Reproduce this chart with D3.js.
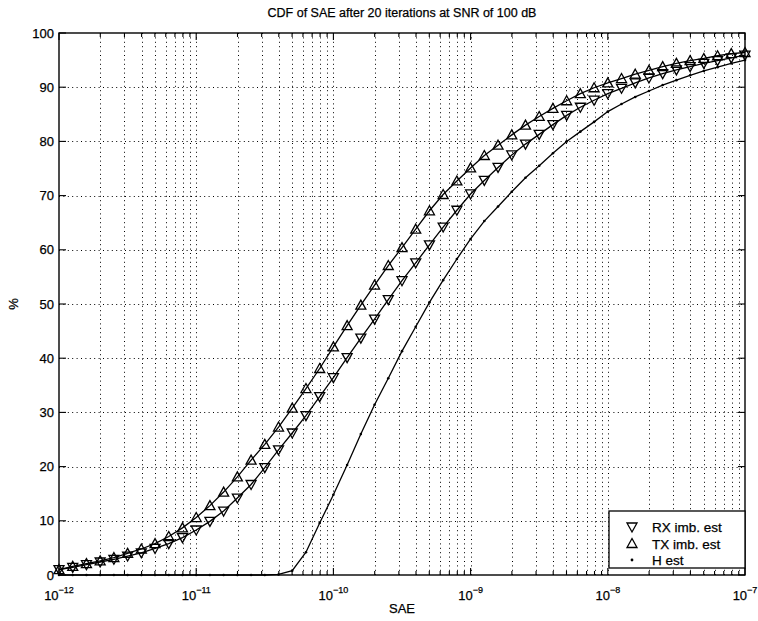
<!DOCTYPE html>
<html>
<head>
<meta charset="utf-8">
<script src="https://cdn.jsdelivr.net/npm/d3@7"></script>
<style>
  body { margin: 0; background: #fff; }
  text { font-family: "Liberation Sans", Arial, Helvetica, sans-serif; fill: #000; stroke: #000; stroke-width: 0.25; }
</style>
</head>
<body>
<svg id="chart" width="758" height="621"></svg>
<script>
// sample points, log10(SAE)
const saeExp = [
  -12.0, -11.9, -11.8, -11.7, -11.6, -11.5, -11.4, -11.3, -11.2, -11.1,
  -11.0, -10.9, -10.8, -10.7, -10.6, -10.5, -10.4, -10.3, -10.2, -10.1,
  -10.0, -9.9, -9.8, -9.7, -9.6, -9.5, -9.4, -9.3, -9.2, -9.1,
  -9.0, -8.9, -8.8, -8.7, -8.6, -8.5, -8.4, -8.3, -8.2, -8.1,
  -8.0, -7.9, -7.8, -7.7, -7.6, -7.5, -7.4, -7.3, -7.2, -7.1, -7.0
];

// CDF values in %
const rxImb = [
  1.0, 1.4, 1.9, 2.4, 2.9, 3.5, 4.1, 4.9, 5.8, 6.9,
  8.3, 9.9, 11.8, 14.2, 16.7, 19.8, 23.1, 26.2, 29.4, 32.9,
  36.4, 40.1, 43.7, 47.2, 50.8, 54.3, 57.6, 60.9, 64.2, 67.3,
  70.3, 72.8, 75.2, 77.5, 79.5, 81.3, 83.1, 84.8, 86.3, 87.6,
  88.8, 89.8, 90.8, 91.7, 92.5, 93.2, 93.8, 94.4, 94.9, 95.4, 95.9
];
const txImb = [
  1.0, 1.6, 2.1, 2.6, 3.2, 4.0, 4.8, 5.8, 7.1, 8.7,
  10.6, 12.8, 15.3, 18.1, 21.2, 24.1, 27.3, 30.8, 34.4, 38.1,
  42.1, 46.0, 49.8, 53.5, 57.1, 60.4, 63.8, 67.2, 70.2, 72.7,
  75.1, 77.4, 79.3, 81.2, 83.0, 84.6, 86.1, 87.5, 88.8, 89.9,
  90.8, 91.6, 92.4, 93.1, 93.8, 94.4, 94.9, 95.3, 95.8, 96.2, 96.4
];
const hEst = [
  0, 0, 0, 0, 0, 0, 0, 0, 0, 0,
  0, 0, 0, 0, 0, 0, 0.1, 0.8, 4.2, 9.6,
  14.8, 20.3, 26.0, 31.4, 36.3, 41.3, 45.8, 50.3, 54.4, 58.3,
  62.0, 65.3, 68.0, 70.7, 73.3, 75.5, 77.8, 80.0, 81.8, 83.6,
  85.5, 86.9, 88.2, 89.3, 90.4, 91.3, 92.2, 93.0, 93.7, 94.4, 95.0
];

const yTicks = [0, 10, 20, 30, 40, 50, 60, 70, 80, 90, 100];
const xDecades = [-12, -11, -10, -9, -8, -7];
const legendNames = ["RX imb. est", "TX imb. est", "H est"];

const svg = d3.select("#chart");
const pLeft = 59, pRight = 745, pTop = 33, pBottom = 575;

const x = d3.scaleLog().domain([1e-12, 1e-7]).range([pLeft, pRight]);
const y = d3.scaleLinear().domain([0, 100]).range([pBottom, pTop]);

const minorX = x.ticks().filter((t) => {
  const e = Math.log10(t);
  return Math.abs(e - Math.round(e)) > 1e-6;
});
const majorX = xDecades.map((e) => Math.pow(10, e));

// grid, dotted like matlab's "grid on"
const grid = svg.append("g").attr("stroke", "#000").attr("stroke-width", 1)
  .attr("stroke-dasharray", "1,3.4");
grid.selectAll(".vg").data(x.ticks().filter((t) => t > 1e-12 * 1.01 && t < 1e-7 * 0.99))
  .enter().append("line")
  .attr("x1", (d) => Math.round(x(d)) + 0.5).attr("x2", (d) => Math.round(x(d)) + 0.5)
  .attr("y1", pTop).attr("y2", pBottom);
grid.selectAll(".hg").data(yTicks.slice(1, -1))
  .enter().append("line")
  .attr("x1", pLeft).attr("x2", pRight)
  .attr("y1", (d) => Math.round(y(d)) + 0.5).attr("y2", (d) => Math.round(y(d)) + 0.5);

// box
svg.append("rect").attr("x", pLeft).attr("y", pTop)
  .attr("width", pRight - pLeft).attr("height", pBottom - pTop)
  .attr("fill", "none").attr("stroke", "#000").attr("stroke-width", 1.4);

// ticks (inside, all four sides)
const tk = svg.append("g").attr("stroke", "#000").attr("stroke-width", 1.1);
[[pBottom, -1], [pTop, 1]].forEach(([yy, dir]) => {
  tk.selectAll(null).data(majorX).enter().append("line")
    .attr("x1", (d) => x(d)).attr("x2", (d) => x(d))
    .attr("y1", yy).attr("y2", yy + dir * 7);
  tk.selectAll(null).data(minorX).enter().append("line")
    .attr("x1", (d) => x(d)).attr("x2", (d) => x(d))
    .attr("y1", yy).attr("y2", yy + dir * 4);
});
[[pLeft, 1], [pRight, -1]].forEach(([xx, dir]) => {
  tk.selectAll(null).data(yTicks).enter().append("line")
    .attr("x1", xx).attr("x2", xx + dir * 7)
    .attr("y1", (d) => y(d)).attr("y2", (d) => y(d));
});

// tick labels
svg.selectAll(".yl").data(yTicks).enter().append("text")
  .attr("x", pLeft - 5).attr("y", (d) => y(d) + 4.5)
  .attr("text-anchor", "end").attr("font-size", 13)
  .text((d) => d);

const xl = svg.selectAll(".xl").data(xDecades).enter().append("text")
  .attr("x", (d) => x(Math.pow(10, d))).attr("y", 600)
  .attr("text-anchor", "middle").attr("font-size", 13);
xl.append("tspan").text("10");
xl.append("tspan").attr("dy", -7).attr("font-size", 9).text((d) => "\u2212" + Math.abs(d));

// titles
svg.append("text").attr("x", (pLeft + pRight) / 2).attr("y", 17)
  .attr("text-anchor", "middle").attr("font-size", 12.5)
  .text("CDF of SAE after 20 iterations at SNR of 100 dB");
svg.append("text").attr("x", (pLeft + pRight) / 2).attr("y", 613)
  .attr("text-anchor", "middle").attr("font-size", 13).text("SAE");
svg.append("text").attr("transform", `translate(18,${(pTop + pBottom) / 2}) rotate(-90)`)
  .attr("text-anchor", "middle").attr("font-size", 13).text("%");

// series
const line = d3.line()
  .x((d) => x(Math.pow(10, d[0])))
  .y((d) => y(d[1]));

const triUp = "M0,-5L5,4L-5,4Z";
const triDown = "M0,5L5,-4L-5,-4Z";

const series = [
  { name: legendNames[0], values: rxImb, marker: triDown },
  { name: legendNames[1], values: txImb, marker: triUp },
  { name: legendNames[2], values: hEst, marker: null }
];

const plot = svg.append("g");
series.forEach((s) => {
  const pts = saeExp.map((e, i) => [e, s.values[i]]);
  plot.append("path").datum(pts)
    .attr("d", line).attr("fill", "none")
    .attr("stroke", "#000").attr("stroke-width", 1.3);
  if (s.marker) {
    plot.selectAll(null).data(pts).enter().append("path")
      .attr("transform", (d) => `translate(${x(Math.pow(10, d[0]))},${y(d[1])})`)
      .attr("d", s.marker)
      .attr("fill", "none").attr("stroke", "#000").attr("stroke-width", 1.3);
  } else {
    plot.selectAll(null).data(pts).enter().append("circle")
      .attr("cx", (d) => x(Math.pow(10, d[0]))).attr("cy", (d) => y(d[1]))
      .attr("r", 1.3).attr("fill", "#000");
  }
});

// legend
const lg = svg.append("g");
lg.append("rect").attr("x", 609).attr("y", 511).attr("width", pRight - 609).attr("height", 57)
  .attr("fill", "#fff").attr("stroke", "#000").attr("stroke-width", 1.3);
series.forEach((s, i) => {
  const ly = 527 + i * 16.5;
  if (s.marker) {
    lg.append("path").attr("transform", `translate(632,${ly})`).attr("d", s.marker)
      .attr("fill", "none").attr("stroke", "#000").attr("stroke-width", 1.3);
  } else {
    lg.append("circle").attr("cx", 632).attr("cy", ly).attr("r", 1.4).attr("fill", "#000");
  }
  lg.append("text").attr("x", 652).attr("y", ly + 5).attr("font-size", 13.5).text(s.name);
});
</script>
</body>
</html>
